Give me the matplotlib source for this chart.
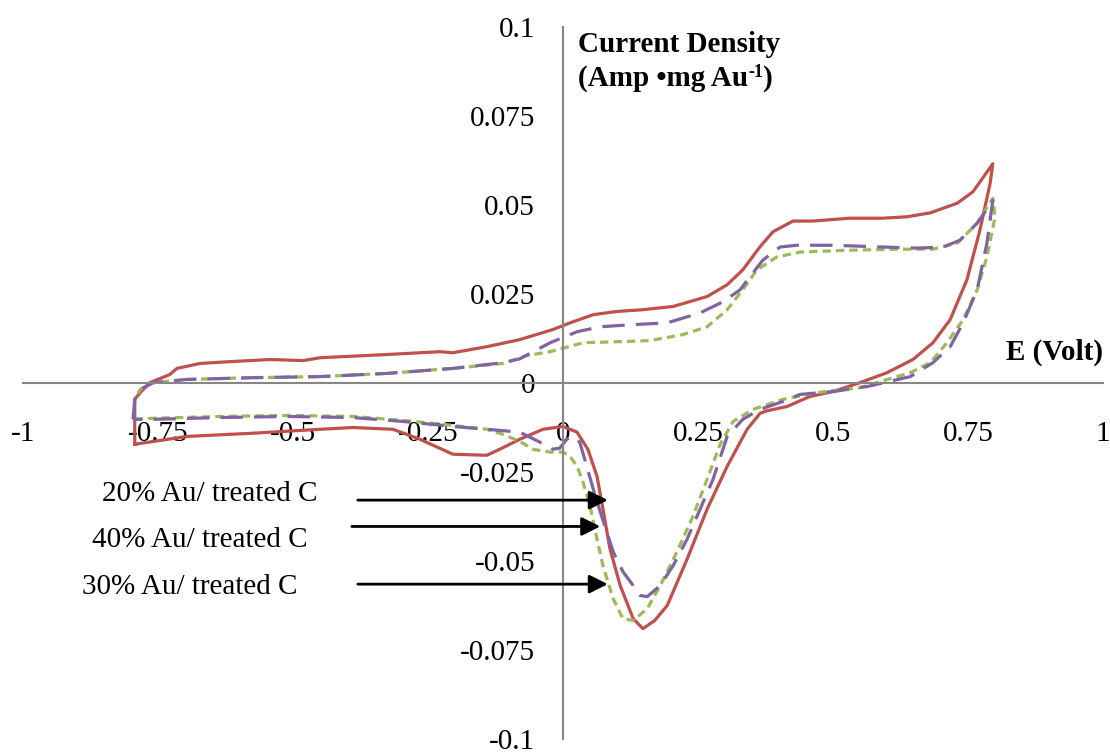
import matplotlib
matplotlib.use("Agg")
import matplotlib.pyplot as plt

plt.rcParams['font.family'] = ['Liberation Serif', 'DejaVu Serif']
plt.rcParams['axes.unicode_minus'] = False

# Cyclic voltammograms (E in V, current density)
red_x = [-0.793, -0.793, -0.783, -0.765, -0.728, -0.715, -0.672, -0.617, -0.543, -0.481, -0.45,
         -0.326, -0.265, -0.228, -0.204, -0.141, -0.080, -0.019, 0.013, 0.056, 0.100, 0.148,
         0.204, 0.267, 0.304, 0.333, 0.365, 0.389, 0.426, 0.463, 0.531, 0.593, 0.637, 0.680,
         0.730, 0.759, 0.796, 0.791, 0.772, 0.748, 0.717, 0.685, 0.648, 0.600, 0.550, 0.500,
         0.457, 0.415, 0.378, 0.365, 0.341, 0.304, 0.267, 0.230, 0.193, 0.170, 0.148, 0.130,
         0.106, 0.087, 0.074, 0.063, 0.046, 0.026, 0.0, -0.037, -0.080, -0.117, -0.141, -0.204,
         -0.265, -0.315, -0.389, -0.45, -0.574, -0.696, -0.793]
red_y = [-0.0172, -0.0046, -0.0027, 0.0001, 0.0024, 0.0041, 0.0055, 0.0060, 0.0066, 0.0063, 0.0071,
         0.0080, 0.0085, 0.0088, 0.0085, 0.0102, 0.0122, 0.0150, 0.0169, 0.0192, 0.0201, 0.0206,
         0.0215, 0.0243, 0.0276, 0.0318, 0.0383, 0.0425, 0.0455, 0.0455, 0.0463, 0.0463, 0.0467,
         0.0478, 0.0505, 0.0537, 0.0616, 0.0561, 0.0429, 0.0290, 0.0178, 0.0113, 0.0066, 0.0029,
         0.0001, -0.0024, -0.0038, -0.0066, -0.0078, -0.0085, -0.0130, -0.0234, -0.0354, -0.0494,
         -0.0625, -0.0667, -0.0690, -0.0662, -0.0569, -0.0466, -0.0354, -0.0262, -0.0186, -0.0138,
         -0.0122, -0.0130, -0.0158, -0.0186, -0.0203, -0.0200, -0.0158, -0.0130, -0.0125, -0.0130,
         -0.0141, -0.0150, -0.0172]

purple_x = [-0.796, -0.793, -0.783, -0.759, -0.696, -0.574, -0.450, -0.326, -0.204, -0.111, -0.080,
            -0.024, 0.026, 0.069, 0.130, 0.193, 0.254, 0.296, 0.328, 0.346, 0.370, 0.402, 0.433,
            0.500, 0.593, 0.656, 0.704, 0.735, 0.767, 0.796, 0.785, 0.767, 0.741, 0.717, 0.685,
            0.643, 0.563, 0.500, 0.439, 0.407, 0.365, 0.333, 0.304, 0.278, 0.254, 0.230, 0.204,
            0.180, 0.156, 0.143, 0.130, 0.111, 0.093, 0.081, 0.069, 0.056, 0.044, 0.031, 0.019,
            0.007, -0.006, -0.019, -0.043, -0.080, -0.141, -0.204, -0.296, -0.389, -0.511, -0.635,
            -0.759, -0.796]
purple_y = [-0.0102, -0.0046, -0.0018, 0.0001, 0.0010, 0.0015, 0.0018, 0.0027, 0.0041, 0.0057, 0.0068,
            0.0113, 0.0144, 0.0158, 0.0164, 0.0169, 0.0197, 0.0228, 0.0262, 0.0298, 0.0345, 0.0382,
            0.0387, 0.0387, 0.0382, 0.0379, 0.0382, 0.0401, 0.0449, 0.0513, 0.0393, 0.0262, 0.0169,
            0.0102, 0.0057, 0.0018, -0.0010, -0.0024, -0.0032, -0.0052, -0.0074, -0.0102, -0.0150,
            -0.0270, -0.0354, -0.0438, -0.0513, -0.0569, -0.0600, -0.0597, -0.0569, -0.0530, -0.0474,
            -0.0418, -0.0362, -0.0298, -0.0234, -0.0166, -0.0150, -0.0158, -0.0183, -0.0186, -0.0166,
            -0.0138, -0.0130, -0.0122, -0.0108, -0.0097, -0.0094, -0.0097, -0.0102, -0.0102]

green_x = [-0.796, -0.793, -0.783, -0.759, -0.696, -0.574, -0.450, -0.326, -0.204, -0.111, -0.067,
           -0.024, 0.037, 0.100, 0.161, 0.222, 0.267, 0.304, 0.333, 0.359, 0.396, 0.439, 0.531,
           0.624, 0.685, 0.730, 0.767, 0.796, 0.800, 0.785, 0.767, 0.741, 0.711, 0.680, 0.643,
           0.550, 0.470, 0.407, 0.352, 0.315, 0.291, 0.267, 0.241, 0.211, 0.180, 0.156, 0.130,
           0.111, 0.093, 0.074, 0.063, 0.050, 0.037, 0.026, 0.013, 0.0, -0.024, -0.056, -0.080,
           -0.117, -0.141, -0.204, -0.296, -0.389, -0.511, -0.635, -0.759, -0.796]
green_y = [-0.0102, -0.0046, -0.0018, 0.0001, 0.0010, 0.0015, 0.0018, 0.0027, 0.0041, 0.0055, 0.0077,
           0.0088, 0.0113, 0.0116, 0.0119, 0.0136, 0.0158, 0.0206, 0.0262, 0.0318, 0.0354, 0.0368,
           0.0373, 0.0376, 0.0376, 0.0393, 0.0449, 0.0519, 0.0466, 0.0354, 0.0262, 0.0178, 0.0113,
           0.0057, 0.0029, -0.0013, -0.0027, -0.0046, -0.0074, -0.0108, -0.0172, -0.0270, -0.0373,
           -0.0474, -0.0569, -0.0634, -0.0667, -0.0662, -0.0606, -0.0513, -0.0438, -0.0345, -0.0278,
           -0.0234, -0.0206, -0.0194, -0.0194, -0.0186, -0.0164, -0.0141, -0.0130, -0.0119, -0.0105,
           -0.0094, -0.0091, -0.0094, -0.0099, -0.0102]

x_ticks = [-1, -0.75, -0.5, -0.25, 0, 0.25, 0.5, 0.75, 1]
x_labels = ['-1', '-0.75', '-0.5', '-0.25', '0', '0.25', '0.5', '0.75', '1']
y_ticks = [-0.1, -0.075, -0.05, -0.025, 0, 0.025, 0.05, 0.075, 0.1]
y_labels = ['-0.1', '-0.075', '-0.05', '-0.025', '0', '0.025', '0.05', '0.075', '0.1']

labels = ['20% Au/ treated C', '40% Au/ treated C', '30% Au/ treated C']

fig = plt.figure(figsize=(11.1, 7.53), dpi=100)
ax = fig.add_axes([0.0207, 0.0186, 0.973, 0.9455])

ax.plot(red_x, red_y, color='#C0504D', lw=2.3, solid_joinstyle='round')
ax.plot(green_x, green_y, color='#9BBB59', lw=2.3, dashes=(2.6, 1.6))
ax.plot(purple_x, purple_y, color='#8064A2', lw=2.3, dashes=(7, 3.5))

ax.set_xlim(-1, 1)
ax.set_ylim(-0.1, 0.1)
for s in ['top', 'right']:
    ax.spines[s].set_visible(False)
for s in ['left', 'bottom']:
    ax.spines[s].set_position('zero')
    ax.spines[s].set_color('#868686')
    ax.spines[s].set_linewidth(1.5)

ax.set_xticks(x_ticks)
ax.set_xticklabels(x_labels)
ax.set_yticks(y_ticks)
ax.set_yticklabels(y_labels)
ax.tick_params(axis='x', length=0, pad=27, labelsize=21)
ax.tick_params(axis='y', length=0, pad=20, labelsize=21)

# axis titles
ax.text(0.028, 0.0952, 'Current Density', fontsize=21, fontweight='bold', va='center', ha='left')
t1 = ax.text(0.028, 0.0855, '(Amp •mg Au', fontsize=21, fontweight='bold', va='center', ha='left')
t2 = ax.annotate('-1', xy=(1.0, 0.42), xycoords=t1, fontsize=13, fontweight='bold',
                 va='bottom', ha='left')
ax.annotate(')', xy=(1.0, 0.0), xycoords=(t2, t1), fontsize=21, fontweight='bold',
            va='bottom', ha='left')
ax.text(1.0, 0.0085, 'E (Volt)', fontsize=21, fontweight='bold', va='center', ha='right')

# arrows pointing at the reduction peaks
arrow_y = [-0.0329, -0.0403, -0.0565]
arrow_x0 = [-0.380, -0.391, -0.380]
arrow_x1 = [0.083, 0.069, 0.083]
text_x = [-0.454, -0.472, -0.491]
text_y = [-0.0311, -0.0440, -0.0572]
for i in range(3):
    ax.annotate('', xy=(arrow_x1[i], arrow_y[i]), xytext=(arrow_x0[i], arrow_y[i]),
                arrowprops=dict(arrowstyle='-|>', mutation_scale=28, lw=2, color='black',
                                shrinkA=0, shrinkB=0))
    ax.text(text_x[i], text_y[i], labels[i], fontsize=21, ha='right', va='center')

fig.savefig('out.png', dpi=100)
